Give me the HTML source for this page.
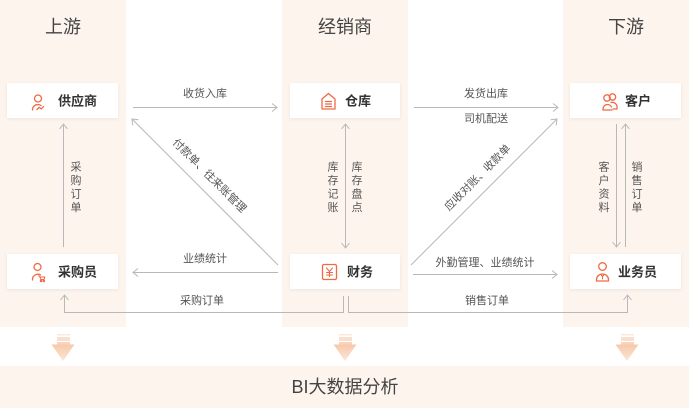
<!DOCTYPE html>
<html><head><meta charset="utf-8"><style>
html,body{margin:0;padding:0;background:#fff;}
svg{display:block;}
text{font-family:"Liberation Sans","Noto Sans CJK SC",sans-serif;}
</style></head><body>
<svg width="689" height="408" viewBox="0 0 689 408" xmlns="http://www.w3.org/2000/svg">
<defs>
<marker id="ar" viewBox="0 0 10 10" refX="9" refY="5" markerWidth="10" markerHeight="10" markerUnits="userSpaceOnUse" orient="auto-start-reverse">
<path d="M4,1 L9,5 L4,9" fill="none" stroke="#b8b8b8" stroke-width="1"/>
</marker>
<linearGradient id="tri" x1="0" y1="0" x2="0" y2="1">
<stop offset="0" stop-color="#f6c9aa"/><stop offset="1" stop-color="#fbe6d8"/>
</linearGradient>
<filter id="sh" x="-10%" y="-20%" width="120%" height="150%">
<feDropShadow dx="0" dy="1" stdDeviation="1.5" flood-color="#000" flood-opacity="0.07"/>
</filter>
</defs>
<!-- backgrounds -->
<rect x="0" y="0" width="126" height="327" fill="#fdf4ee"/>
<rect x="282" y="0" width="126" height="327" fill="#fdf4ee"/>
<rect x="563" y="0" width="126" height="327" fill="#fdf4ee"/>
<rect x="0" y="366" width="689" height="42" fill="#fdf4ee"/>

<!-- titles -->
<text x="63" y="27" font-size="18" fill="#444" text-anchor="middle" dominant-baseline="central">上游</text>
<text x="345" y="27" font-size="18" fill="#444" text-anchor="middle" dominant-baseline="central">经销商</text>
<text x="626" y="27" font-size="18" fill="#444" text-anchor="middle" dominant-baseline="central">下游</text>

<!-- boxes -->
<g filter="url(#sh)" fill="#fff">
<rect x="7" y="83" width="111" height="35"/>
<rect x="290" y="83" width="110" height="35"/>
<rect x="570" y="83" width="111" height="35"/>
<rect x="7" y="254" width="111" height="35"/>
<rect x="290" y="254" width="110" height="35"/>
<rect x="570" y="254" width="111" height="35"/>
</g>

<!-- box labels -->
<g font-size="13" font-weight="bold" fill="#333" dominant-baseline="central">
<text x="58" y="101">供应商</text>
<text x="345" y="101">仓库</text>
<text x="625" y="101">客户</text>
<text x="58" y="272">采购员</text>
<text x="347" y="272">财务</text>
<text x="618" y="272">业务员</text>
</g>

<!-- icons -->
<g fill="none" stroke="#ee6a43" stroke-width="1.3" stroke-linecap="round" stroke-linejoin="round">
<!-- supplier -->
<circle cx="38" cy="98.5" r="3.5"/>
<path d="M32.5 110 v-0.5 a5.5 5 0 0 1 5.5-5 a5.5 5 0 0 1 3 1"/>
<path d="M37 109.5 l2.2-2.2 2 1.6 2.3-2.3"/>
<!-- warehouse -->
<path d="M322 99 L328.5 93.5 L335 99 V109 H322 Z"/>
<path d="M325.5 101.5 h6 M325.5 104 h6 M325.5 106.5 h6"/>
<!-- customer -->
<circle cx="607" cy="98" r="3.2"/>
<path d="M603 110 v-1 a4.5 4.5 0 0 1 8.5-2 "/>
<path d="M603 110 h9"/>
<circle cx="612.5" cy="97" r="3.2"/>
<path d="M611 102.5 a4.8 4.5 0 0 1 6 4.5 v2 h-4"/>
<!-- finance -->
<rect x="322.5" y="264.5" width="14" height="15" rx="1.5"/>
<path d="M326.5 268 l3 3.5 3-3.5 M329.5 271.5 v5 M326.5 272.5 h6 M326.5 275 h6" stroke-width="1.1"/>
<!-- purchaser -->
<circle cx="37.5" cy="267" r="3.5"/>
<path d="M32.5 280 v-1 a5.5 5 0 0 1 8-4.2"/>
<path d="M38.5 276 h1.2 l1 3.5 h3.3 l0.8-2.5 h-4.6" stroke-width="1.1"/>
<circle cx="41" cy="281" r="0.6"/><circle cx="43.8" cy="281" r="0.6"/>
<!-- salesman -->
<circle cx="602.5" cy="266.5" r="3.8"/>
<path d="M596.5 281 v-1.5 a6 5.5 0 0 1 12 0 v1.5 Z"/>
<path d="M601.3 275 l1.2 1.5 l1.2-1.5 M602.5 276.5 v2.5" stroke-width="1.1"/>
</g>

<!-- connectors -->
<g fill="none" stroke="#b8b8b8" stroke-width="1">
<line x1="133" y1="107.5" x2="277" y2="107.5" marker-end="url(#ar)"/>
<line x1="278" y1="265" x2="132" y2="119" marker-end="url(#ar)"/>
<line x1="278" y1="272.5" x2="133" y2="272.5" marker-end="url(#ar)"/>
<line x1="63.5" y1="247" x2="63.5" y2="124" marker-end="url(#ar)"/>
<line x1="345.5" y1="124" x2="345.5" y2="248" marker-start="url(#ar)" marker-end="url(#ar)"/>
<line x1="414" y1="107.5" x2="558" y2="107.5" marker-end="url(#ar)"/>
<line x1="411" y1="265" x2="557" y2="119" marker-end="url(#ar)"/>
<line x1="413" y1="274.5" x2="557" y2="274.5" marker-end="url(#ar)"/>
<line x1="616.5" y1="124" x2="616.5" y2="247" marker-end="url(#ar)"/>
<line x1="625.5" y1="247" x2="625.5" y2="124" marker-end="url(#ar)"/>
<polyline points="343.5,296 343.5,312.5 64.5,312.5 64.5,295" marker-end="url(#ar)"/>
<polyline points="348.5,296 348.5,312.5 627.5,312.5 627.5,295" marker-end="url(#ar)"/>
</g>

<!-- connector labels -->
<g font-size="11" fill="#555" text-anchor="middle" dominant-baseline="central">
<text x="205" y="94">收货入库</text>
<text x="205" y="259">业绩统计</text>
<text x="202" y="301">采购订单</text>
<text x="486" y="94">发货出库</text>
<text x="486" y="119">司机配送</text>
<text x="485" y="263">外勤管理、业绩统计</text>
<text x="487" y="301">销售订单</text>
<text transform="translate(209,176) rotate(45)">付款单、往来账管理</text>
<text transform="translate(478,178) rotate(-45)">应收对账、收款单</text>
</g>

<!-- vertical labels -->
<g font-size="11" fill="#555" text-anchor="middle" dominant-baseline="central">
<text x="76" y="167.5">采</text><text x="76" y="181">购</text><text x="76" y="194.5">订</text><text x="76" y="208">单</text>
<text x="333" y="167.5">库</text><text x="333" y="181">存</text><text x="333" y="194.5">记</text><text x="333" y="208">账</text>
<text x="357" y="167.5">库</text><text x="357" y="181">存</text><text x="357" y="194.5">盘</text><text x="357" y="208">点</text>
<text x="604" y="167.5">客</text><text x="604" y="181">户</text><text x="604" y="194.5">资</text><text x="604" y="208">料</text>
<text x="637" y="167.5">销</text><text x="637" y="181">售</text><text x="637" y="194.5">订</text><text x="637" y="208">单</text>
</g>

<!-- down arrows -->
<g id="da">
<rect x="57" y="334" width="13" height="1.5" fill="#fbe8dc"/>
<rect x="57" y="337" width="13" height="4" fill="#fadfcd"/>
<rect x="57" y="342" width="13" height="3" fill="#f8d4bc"/>
<path d="M51.5 344.5 H74.5 L63 361 Z" fill="url(#tri)"/>
</g>
<use href="#da" x="282"/>
<use href="#da" x="564"/>

<text x="345" y="387" font-size="18" fill="#444" text-anchor="middle" dominant-baseline="central">BI大数据分析</text>
</svg>
</body></html>
